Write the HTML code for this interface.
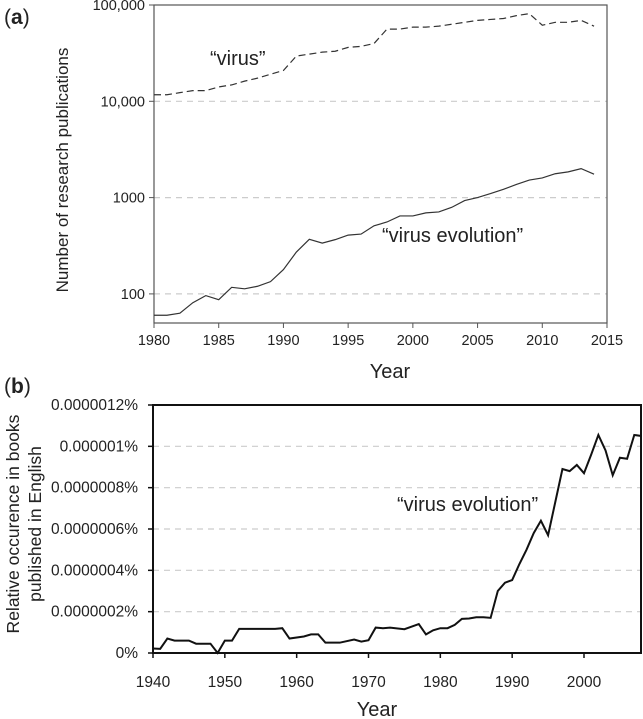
<!DOCTYPE html>
<html><head><meta charset="utf-8">
<style>
html,body{margin:0;padding:0;background:#fff;}
svg{display:block;font-family:"Liberation Sans",Arial,sans-serif;}
</style></head>
<body>
<svg id="chart" width="643" height="719" viewBox="0 0 643 719">
  <text x="4" y="24" font-size="21" fill="#222">(<tspan font-weight="bold">a</tspan>)</text>
  <text x="4" y="393" font-size="21" fill="#222">(<tspan font-weight="bold">b</tspan>)</text>
  <g id="ga"></g>
  <g id="gb"></g>
</svg>
<script>
const yearsA = [1980,1981,1982,1983,1984,1985,1986,1987,1988,1989,1990,1991,1992,1993,1994,1995,1996,1997,1998,1999,2000,2001,2002,2003,2004,2005,2006,2007,2008,2009,2010,2011,2012,2013,2014];
const virusCounts = [11700,11700,12300,12900,12900,14100,14800,16200,17400,19100,20900,29500,30900,32400,33100,36300,37200,39800,56200,56200,58900,58900,60300,63100,66100,69200,70800,72400,77600,81300,61700,66100,66100,69200,60300];
const virusEvoCounts = [60,60,63,81,96,87,117,113,120,134,179,272,369,337,366,408,418,510,558,645,645,694,710,792,931,1000,1100,1220,1370,1520,1600,1770,1850,2000,1750];
const tickYearsA = [1980,1985,1990,1995,2000,2005,2010,2015];
const tickValsA = [100,1000,10000,100000];
const tickLabelsA = ["100","1000","10,000","100,000"];

const yearsB = [1940,1941,1942,1943,1945,1946,1948,1949,1950,1951,1952,1957,1958,1959,1961,1962,1963,1964,1966,1968,1969,1970,1971,1972,1973,1975,1977,1978,1979,1980,1981,1982,1983,1984,1985,1986,1987,1988,1989,1990,1991,1992,1993,1994,1995,1996,1997,1998,1999,2000,2001,2002,2003,2004,2005,2006,2007,2008];
// units of 1e-7 %
const occurrence = [0.22,0.2,0.7,0.6,0.6,0.45,0.45,0,0.6,0.6,1.17,1.17,1.2,0.7,0.8,0.9,0.9,0.5,0.5,0.65,0.55,0.62,1.23,1.2,1.23,1.15,1.4,0.9,1.1,1.2,1.2,1.36,1.65,1.67,1.73,1.73,1.7,3.0,3.4,3.53,4.3,5.0,5.8,6.4,5.7,7.3,8.9,8.8,9.1,8.7,9.6,10.55,9.8,8.6,9.45,9.4,10.55,10.5];
const tickYearsB = [1940,1950,1960,1970,1980,1990,2000];
const tickValsB = [0,2,4,6,8,10,12];
const tickLabelsB = ["0%","0.0000002%","0.0000004%","0.0000006%","0.0000008%","0.000001%","0.0000012%"];

const NS="http://www.w3.org/2000/svg";
function mk(parent,tag,attrs,text){const e=document.createElementNS(NS,tag);for(const k in attrs)e.setAttribute(k,attrs[k]);if(text!==undefined)e.textContent=text;parent.appendChild(e);return e;}

// ---- Chart A ----
const ga=document.getElementById('ga');
const aL=154,aR=607,aT=5,aB=323;
const xA=y=>aL+(y-1980)*(aR-aL)/35;
const yA=v=>aT+(5-Math.log10(v))*96.3;
tickValsA.forEach((v,i)=>{
  if(v<100000){const g=mk(ga,'line',{x1:aL,x2:aR,y1:yA(v),y2:yA(v),stroke:'#ccc','stroke-width':1.2,'stroke-dasharray':'6,5'});
  }
  mk(ga,'line',{x1:aL-5,x2:aL,y1:yA(v),y2:yA(v),stroke:'#555'});
  const t=mk(ga,'text',{x:aL-9,y:yA(v)+5,'text-anchor':'end','font-size':14.5,fill:'#222'},tickLabelsA[i]);
  
});
tickYearsA.forEach(y=>{
  mk(ga,'line',{x1:xA(y),x2:xA(y),y1:aB,y2:aB+5,stroke:'#555'});
  const t=mk(ga,'text',{x:xA(y),y:aB+22,'text-anchor':'middle','font-size':14.5,fill:'#222'},String(y));
  
});
const fa=mk(ga,'rect',{x:aL,y:aT,width:aR-aL,height:aB-aT,fill:'none',stroke:'#555','stroke-width':1.2});

const l1=mk(ga,'polyline',{points:yearsA.map((y,i)=>xA(y)+','+yA(virusCounts[i])).join(' '),fill:'none',stroke:'#333','stroke-width':1.2,'stroke-dasharray':'7,4'});

const l2=mk(ga,'polyline',{points:yearsA.map((y,i)=>xA(y)+','+yA(virusEvoCounts[i])).join(' '),fill:'none',stroke:'#333','stroke-width':1.2});

let t;
t=mk(ga,'text',{x:210,y:65,'font-size':20,fill:'#222'},'“virus”');
t=mk(ga,'text',{x:382,y:242,'font-size':20,fill:'#222'},'“virus evolution”');
t=mk(ga,'text',{x:390,y:378,'text-anchor':'middle','font-size':20,fill:'#222'},'Year');
t=mk(ga,'text',{x:0,y:0,'text-anchor':'middle','font-size':17,fill:'#222',transform:'translate(68,170) rotate(-90)'},'Number of research publications');

// ---- Chart B ----
const gb=document.getElementById('gb');
const bL=153,bR=641,bT=405,bB=653;
const xB=y=>bL+(y-1940)*(584-153)/60;
const yB=v=>bB-v*(bB-bT)/12;
tickValsB.forEach((v,i)=>{
  if(v>0&&v<12){const g=mk(gb,'line',{x1:bL,x2:bR,y1:yB(v),y2:yB(v),stroke:'#ccc','stroke-width':1.2,'stroke-dasharray':'6,5'});
  }
  mk(gb,'line',{x1:bL-5,x2:bL,y1:yB(v),y2:yB(v),stroke:'#111','stroke-width':1.5});
  const tt=mk(gb,'text',{x:bL-15,y:yB(v)+5,'text-anchor':'end','font-size':15.5,fill:'#222'},tickLabelsB[i]);
  
});
tickYearsB.forEach(y=>{
  mk(gb,'line',{x1:xB(y),x2:xB(y),y1:bB,y2:bB+5,stroke:'#111','stroke-width':1.5});
  const tt=mk(gb,'text',{x:xB(y),y:bB+34,'text-anchor':'middle','font-size':15.5,fill:'#222'},String(y));
  
});
const fb=mk(gb,'rect',{x:bL,y:bT,width:bR-bL,height:bB-bT,fill:'none',stroke:'#111','stroke-width':2});

const l3=mk(gb,'polyline',{points:yearsB.map((y,i)=>xB(y)+','+yB(occurrence[i])).join(' '),fill:'none',stroke:'#111','stroke-width':2,'stroke-linejoin':'miter'});

t=mk(gb,'text',{x:397,y:511,'font-size':20,fill:'#222'},'“virus evolution”');
t=mk(gb,'text',{x:377,y:716,'text-anchor':'middle','font-size':20,fill:'#222'},'Year');
t=mk(gb,'text',{x:0,y:0,'text-anchor':'middle','font-size':17.5,fill:'#222',transform:'translate(19,524) rotate(-90)'},'Relative occurence in books');
t=mk(gb,'text',{x:0,y:0,'text-anchor':'middle','font-size':17.5,fill:'#222',transform:'translate(41,524) rotate(-90)'},'published in English');
</script>
</body></html>
